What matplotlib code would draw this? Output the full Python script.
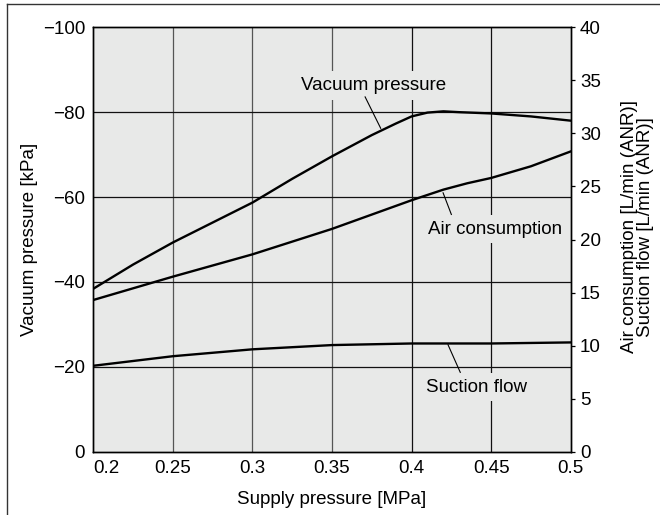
import numpy as np
import matplotlib
matplotlib.use("Agg")
import matplotlib.pyplot as plt
from matplotlib.lines import Line2D

plt.rcParams['font.family'] = ['Liberation Sans', 'DejaVu Sans']
plt.rcParams['font.size'] = 13.5

# data
vac_x = [0.2, 0.225, 0.25, 0.275, 0.3, 0.325, 0.35, 0.375, 0.39, 0.4, 0.41, 0.42, 0.43, 0.45, 0.475, 0.5]
vac_y = [-38.4, -44.1, -49.3, -54.0, -58.7, -64.3, -69.6, -74.6, -77.3, -79.0, -79.9, -80.2, -80.0, -79.7, -79.0, -78.0]

air_x = [0.2, 0.25, 0.3, 0.35, 0.4, 0.42, 0.435, 0.45, 0.475, 0.5]
air_y = [14.3, 16.5, 18.6, 21.0, 23.7, 24.7, 25.3, 25.8, 26.9, 28.3]

suc_x = [0.2, 0.25, 0.3, 0.35, 0.4, 0.45, 0.5]
suc_y = [8.1, 9.0, 9.65, 10.05, 10.2, 10.2, 10.3]

x_ticks = [0.2, 0.25, 0.3, 0.35, 0.4, 0.45, 0.5]
x_labels = ['0.2', '0.25', '0.3', '0.35', '0.4', '0.45', '0.5']
left_ticks = [0, -20, -40, -60, -80, -100]
right_ticks = [0, 5, 10, 15, 20, 25, 30, 35, 40]

bg = '#e8e9e8'
fs = 13.5

fig = plt.figure(figsize=(6.6, 5.15), dpi=100)
ax = fig.add_axes([0.1414, 0.1229, 0.7233, 0.8241])
ax.set_facecolor(bg)
ax.set_xlim(0.2, 0.5)
ax.set_ylim(0, -100)

# grid
for gx, c in zip([0.25, 0.3, 0.35, 0.4, 0.45], ['#555555', '#555555', '#555555', '#111111', '#111111']):
    ax.axvline(gx, color=c, lw=0.9, zorder=1)
for gy in [-20, -40, -60, -80]:
    ax.axhline(gy, color='#111111', lw=0.9, zorder=1)

ax.plot(vac_x, vac_y, color='black', lw=1.7, zorder=3)

ax.set_xticks(x_ticks)
ax.set_xticklabels(x_labels)
ax.get_xticklabels()[0].set_horizontalalignment('left')
ax.set_yticks(left_ticks)
ax.tick_params(axis='both', length=0, pad=6, labelsize=fs)
ax.set_xlabel('Supply pressure [MPa]', fontsize=fs)
ax.xaxis.set_label_coords(0.5, -0.092)
ax.set_ylabel('Vacuum pressure [kPa]', fontsize=fs)
ax.yaxis.set_label_coords(-0.116, 0.5)

ax2 = ax.twinx()
ax2.set_ylim(0, 40)
ax2.set_yticks(right_ticks)
ax2.tick_params(axis='y', direction='out', length=3, width=0.9, pad=3.6, labelsize=fs)
ax2.plot(air_x, air_y, color='black', lw=1.7, zorder=3)
ax2.plot(suc_x, suc_y, color='black', lw=1.7, zorder=3)
ax2.set_ylabel('Air consumption [L/min (ANR)]\nSuction flow [L/min (ANR)]',
               fontsize=fs, multialignment='center', linespacing=0.95)
ax2.yaxis.set_label_coords(1.105, 0.53)

for a in (ax, ax2):
    for s in a.spines.values():
        s.set_linewidth(1.0)
        s.set_color('black')

# curve labels with leader lines
box = dict(facecolor=bg, edgecolor='none', pad=4)
ax.text(0.3764, -86.3, 'Vacuum pressure', ha='center', va='center', fontsize=fs, bbox=box, zorder=4)
ax.plot([0.3708, 0.3806], [-83.6, -76.2], color='black', lw=0.8, zorder=4)
ax.text(0.4523, -52.4, 'Air consumption', ha='center', va='center', fontsize=fs, bbox=box, zorder=4)
ax.plot([0.4198, 0.4250], [-61.0, -55.9], color='black', lw=0.8, zorder=4)
ax.text(0.4408, -15.2, 'Suction flow', ha='center', va='center', fontsize=fs, bbox=box, zorder=4)
ax.plot([0.4229, 0.4306], [-25.2, -18.7], color='black', lw=0.8, zorder=4)

# outer frame (left and top edges)
fig.add_artist(Line2D([0.0106, 0.0106], [0.0, 0.9922], color='#333333', lw=1.0, transform=fig.transFigure))
fig.add_artist(Line2D([0.0106, 1.0], [0.9922, 0.9922], color='#333333', lw=1.0, transform=fig.transFigure))

fig.savefig('out.png', dpi=100)
